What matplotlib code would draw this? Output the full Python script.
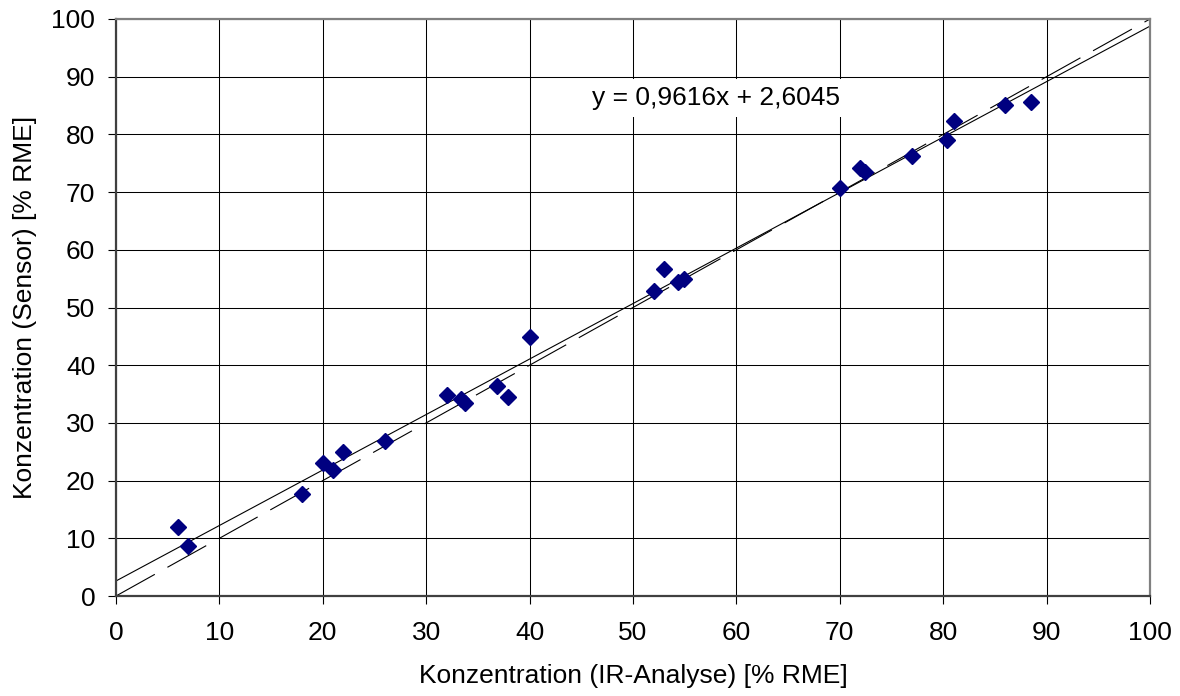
import matplotlib
matplotlib.use("Agg")
import matplotlib.pyplot as plt
import numpy as np

plt.rcParams['font.family'] = ['Liberation Sans', 'DejaVu Sans']

# Measured concentrations: IR analysis (x) vs. sensor reading (y), % RME
ir_analyse = [6, 7, 18, 20, 21, 22, 26, 32, 33.4, 33.8, 36.8, 37.9, 40,
              52, 53, 54.4, 54.9, 70, 72, 72.4, 77, 80.4, 81, 86, 88.5]
sensor = [12, 8.6, 17.7, 23, 21.8, 25, 26.9, 34.8, 34.1, 33.4, 36.4, 34.5, 44.9,
          52.9, 56.6, 54.4, 54.9, 70.7, 74.1, 73.5, 76.2, 79.0, 82.4, 85.1, 85.6]

# Linear regression (as stated in the equation label)
slope = 0.9616
intercept = 2.6045

x_ticks = list(range(0, 101, 10))
y_ticks = list(range(0, 101, 10))

FS = 19

fig = plt.figure(figsize=(11.8, 6.96), dpi=100)
ax = fig.add_axes([116 / 1180, 1 - 596 / 696, (1150 - 116) / 1180, (596 - 19) / 696])

ax.set_xlim(0, 100)
ax.set_ylim(0, 100)
ax.set_xticks(x_ticks)
ax.set_yticks(y_ticks)
ax.grid(True, color='black', linewidth=0.75)
ax.set_axisbelow(True)

xs = np.array([0, 100])
ax.plot(xs, slope * xs + intercept, color='black', linewidth=0.8, zorder=2)
ax.plot(xs, xs, color='black', linewidth=0.8, linestyle=(0, (40, 13)), zorder=2)

ax.plot(ir_analyse, sensor, linestyle='none', marker='D', markersize=8.5,
        color='#000080', markeredgecolor='#000080', zorder=3, clip_on=False)

ax.text(58.0, 86.3, f"y = {slope:.4f}x + {intercept:.4f}".replace('.', ','),
        ha='center', va='center', fontsize=FS,
        bbox=dict(facecolor='white', edgecolor='none', pad=5), zorder=4)

for side in ('left', 'bottom'):
    ax.spines[side].set_color('#404040')
    ax.spines[side].set_linewidth(1.6)
for side in ('top', 'right'):
    ax.spines[side].set_color('#808080')
    ax.spines[side].set_linewidth(1.6)

ax.tick_params(axis='both', which='major', labelsize=FS, length=6,
               width=0.8, color='black', direction='out')
ax.tick_params(axis='x', pad=12)
ax.tick_params(axis='y', pad=9)

ax.set_xlabel("Konzentration (IR-Analyse) [% RME]", fontsize=FS, labelpad=14)
ax.set_ylabel("Konzentration (Sensor) [% RME]", fontsize=FS, labelpad=10)

fig.savefig("out.png", dpi=100, facecolor='white')
